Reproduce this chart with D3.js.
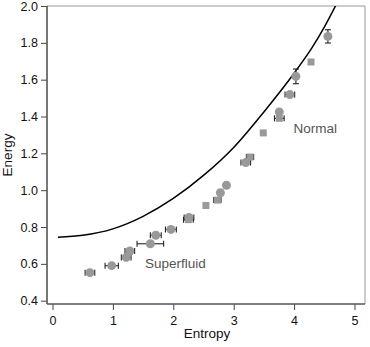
<!DOCTYPE html>
<html>
<head>
<meta charset="utf-8">
<script src="https://cdn.jsdelivr.net/npm/d3@7"></script>
<style>
  html, body { margin: 0; padding: 0; background: #fff; }
  svg { display: block; font-family: "Liberation Sans", Arial, sans-serif; }
</style>
</head>
<body>
<svg id="chart" width="370" height="347"></svg>
<script>
// ---- data ----
const xTicks = [0, 1, 2, 3, 4, 5];
const yTicks = [0.4, 0.6, 0.8, 1.0, 1.2, 1.4, 1.6, 1.8, 2.0];
const yTickLabels = ["0.4", "0.6", "0.8", "1.0", "1.2", "1.4", "1.6", "1.8", "2.0"];

// circle series: entropy, energy, x-error, y-error
const circleS   = [0.62, 0.98, 1.22, 1.28, 1.62, 1.71, 1.96, 2.26, 2.78, 2.88, 3.20, 3.755, 3.93, 4.03, 4.56];
const circleE   = [0.552, 0.590, 0.635, 0.670, 0.709, 0.755, 0.787, 0.852, 0.986, 1.027, 1.150, 1.425, 1.519, 1.618, 1.835];
const circleXErr = [0.08, 0.11, 0.08, 0.08, 0.22, 0.09, 0.09, 0.08, 0, 0, 0.08, 0, 0.08, 0, 0];
const circleYErr = [0, 0, 0, 0, 0, 0, 0, 0, 0, 0, 0, 0, 0, 0.04, 0.036];

// square series
const squareS    = [2.25, 2.54, 2.73, 3.27, 3.49, 3.755, 4.28];
const squareE    = [0.840, 0.917, 0.946, 1.180, 1.311, 1.390, 1.696];
const squareXErr = [0.08, 0, 0.06, 0.06, 0, 0.08, 0];

// model curve
const curveS = [0.09, 0.5, 1.0, 1.5, 2.0, 2.5, 3.0, 3.5, 4.0, 4.3, 4.5, 4.7];
const curveE = [0.744, 0.755, 0.790, 0.858, 0.955, 1.080, 1.232, 1.425, 1.635, 1.775, 1.885, 2.01];

const labels = [
  { text: "Normal", s: 3.99, e: 1.31 },
  { text: "Superfluid", s: 1.53, e: 0.578 }
];

// ---- layout ----
const svg = d3.select("#chart");
const L = 47, R = 365, T = 6, B = 304;
const x = d3.scaleLinear().domain([-0.091, 5.174]).range([L, R]);
const y = d3.scaleLinear().domain([0.382, 2.0]).range([B, T]);

const ptColor = "#999999";
const errColor = "#222222";

// clip
svg.append("defs").append("clipPath").attr("id", "clip")
  .append("rect").attr("x", L).attr("y", T).attr("width", R - L).attr("height", B - T);

// frame top/right
svg.append("path")
  .attr("d", `M${L},${T}H${R}V${B}`)
  .attr("fill", "none").attr("stroke", "#9a9a9a").attr("stroke-width", 1);

// axes
const xAxis = d3.axisBottom(x).tickValues(xTicks).tickSize(6).tickPadding(6).tickFormat(d3.format("d"));
const gx = svg.append("g").attr("transform", `translate(0,${B})`).call(xAxis);
const yAxis = d3.axisLeft(y).tickValues(yTicks).tickSize(6).tickPadding(3).tickFormat((d, i) => yTickLabels[i]);
const gy = svg.append("g").attr("transform", `translate(${L},0)`).call(yAxis);

[gx, gy].forEach(g => {
  g.select(".domain").remove();
  g.selectAll(".tick line").attr("stroke", "#444").attr("stroke-width", 1);
  g.selectAll(".tick text").attr("fill", "#111").style("font-size", "12.5px")
    .style("font-family", "'Liberation Sans', Arial, sans-serif");
});
// axis lines
svg.append("line").attr("x1", L).attr("x2", R).attr("y1", B).attr("y2", B)
  .attr("stroke", "#555").attr("stroke-width", 1.6);
svg.append("line").attr("x1", L).attr("x2", L).attr("y1", T).attr("y2", B)
  .attr("stroke", "#555").attr("stroke-width", 1.6);

// axis titles
svg.append("text").attr("x", (L + R) / 2 + 1).attr("y", 338)
  .attr("text-anchor", "middle").style("font-size", "13.5px").attr("fill", "#111").text("Entropy");
svg.append("text").attr("transform", `translate(12,${(T + B) / 2}) rotate(-90)`)
  .attr("text-anchor", "middle").style("font-size", "13.5px").attr("fill", "#111").text("Energy");

const plot = svg.append("g").attr("clip-path", "url(#clip)");

// curve
const line = d3.line().x((d, i) => x(curveS[i])).y((d, i) => y(curveE[i])).curve(d3.curveMonotoneX);
plot.append("path").datum(curveS).attr("d", line)
  .attr("fill", "none").attr("stroke", "#000").attr("stroke-width", 1.5);

// error bars
const cap = 3;
function xErr(s, e, err) {
  if (!err) return;
  const g = plot.append("g").attr("stroke", errColor).attr("stroke-width", 1.1);
  g.append("line").attr("x1", x(s - err)).attr("x2", x(s + err)).attr("y1", y(e)).attr("y2", y(e));
  g.append("line").attr("x1", x(s - err)).attr("x2", x(s - err)).attr("y1", y(e) - cap).attr("y2", y(e) + cap);
  g.append("line").attr("x1", x(s + err)).attr("x2", x(s + err)).attr("y1", y(e) - cap).attr("y2", y(e) + cap);
}
function yErr(s, e, err) {
  if (!err) return;
  const g = plot.append("g").attr("stroke", errColor).attr("stroke-width", 1.1);
  g.append("line").attr("x1", x(s)).attr("x2", x(s)).attr("y1", y(e - err)).attr("y2", y(e + err));
  g.append("line").attr("x1", x(s) - cap).attr("x2", x(s) + cap).attr("y1", y(e - err)).attr("y2", y(e - err));
  g.append("line").attr("x1", x(s) - cap).attr("x2", x(s) + cap).attr("y1", y(e + err)).attr("y2", y(e + err));
}
squareS.forEach((s, i) => xErr(s, squareE[i], squareXErr[i]));
circleS.forEach((s, i) => { xErr(s, circleE[i], circleXErr[i]); yErr(s, circleE[i], circleYErr[i]); });

// squares
const sq = 7;
plot.selectAll("rect.sq").data(squareS).enter().append("rect").attr("class", "sq")
  .attr("x", (d) => x(d) - sq / 2).attr("y", (d, i) => y(squareE[i]) - sq / 2)
  .attr("width", sq).attr("height", sq).attr("fill", ptColor);

// circles
plot.selectAll("circle.pt").data(circleS).enter().append("circle").attr("class", "pt")
  .attr("cx", (d) => x(d)).attr("cy", (d, i) => y(circleE[i])).attr("r", 4.5)
  .attr("fill", ptColor);

// labels
svg.selectAll("text.lab").data(labels).enter().append("text").attr("class", "lab")
  .attr("x", d => x(d.s)).attr("y", d => y(d.e))
  .attr("text-anchor", "start").style("font-size", "13.5px").attr("fill", "#555")
  .text(d => d.text);
</script>
</body>
</html>
